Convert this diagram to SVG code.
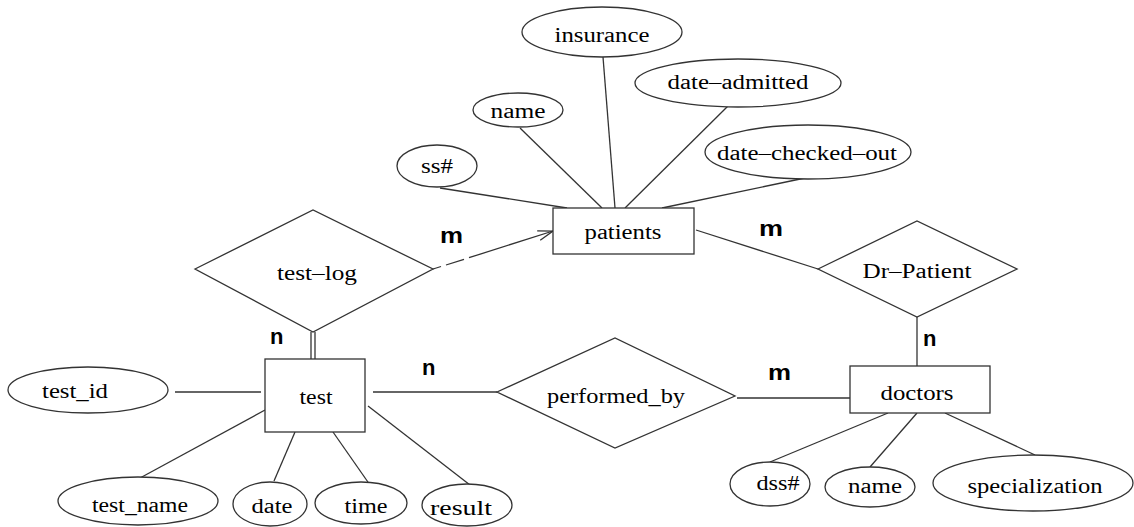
<svg xmlns="http://www.w3.org/2000/svg" width="1134" height="527" viewBox="0 0 1134 527">
<defs>
<style>
.s{fill:#fff;stroke:#333;stroke-width:1.3}
.l{fill:none;stroke:#333;stroke-width:1.3}
.t{font-family:"Liberation Serif","Times New Roman",serif;font-size:20px;fill:#000;text-anchor:middle}
.c{font-family:"Liberation Sans",Arial,sans-serif;font-weight:bold;font-size:22px;fill:#000}
</style>
<marker id="arr" markerWidth="16" markerHeight="12" refX="15" refY="6" orient="auto" markerUnits="userSpaceOnUse">
<polyline points="0,1 15,6 0,11" fill="none" stroke="#333" stroke-width="1.3"/>
</marker>
</defs>
<rect width="1134" height="527" fill="#fff"/>
<g id="connectors">
<line class="l" x1="440" y1="188" x2="567" y2="208"/>
<line class="l" x1="520" y1="128" x2="602" y2="208"/>
<line class="l" x1="603" y1="57" x2="615" y2="208"/>
<line class="l" x1="728" y1="106" x2="625" y2="208"/>
<line class="l" x1="805" y1="178" x2="662" y2="208"/>
<line class="l" x1="433" y1="269" x2="441" y2="266.5"/>
<line class="l" x1="446" y1="265" x2="464" y2="259.3"/>
<line class="l" x1="469" y1="257.7" x2="553" y2="231" marker-end="url(#arr)"/>
<line class="l" x1="696" y1="230" x2="818" y2="269"/>
<line class="l" x1="917" y1="317" x2="917" y2="366"/>
<line class="l" x1="311" y1="332" x2="311" y2="359"/>
<line class="l" x1="315" y1="332" x2="315" y2="359"/>
<line class="l" x1="373" y1="392" x2="497" y2="392"/>
<line class="l" x1="737" y1="398" x2="852" y2="398"/>
<line class="l" x1="175" y1="392" x2="261" y2="392"/>
<line class="l" x1="140" y1="478" x2="265" y2="410"/>
<line class="l" x1="274" y1="481" x2="295" y2="432"/>
<line class="l" x1="370" y1="485" x2="333" y2="432"/>
<line class="l" x1="470" y1="485" x2="368" y2="406"/>
<line class="l" x1="770" y1="462" x2="888" y2="413"/>
<line class="l" x1="870" y1="467" x2="917" y2="413"/>
<line class="l" x1="1035" y1="455" x2="945" y2="413"/>
<text class="c" x="440" y="243" textLength="23" lengthAdjust="spacingAndGlyphs">m</text>
<text class="c" x="759" y="236" textLength="24" lengthAdjust="spacingAndGlyphs">m</text>
<text class="c" x="270" y="344">n</text>
<text class="c" x="422" y="375">n</text>
<text class="c" x="923" y="346">n</text>
<text class="c" x="768" y="380" textLength="23" lengthAdjust="spacingAndGlyphs">m</text>
</g>
<g id="patients">
<rect class="s" x="553" y="208" width="141" height="46"/>
<text class="t" x="623" y="239" textLength="77" lengthAdjust="spacingAndGlyphs">patients</text>
</g>
<g id="ssn">
<ellipse class="s" cx="437" cy="166" rx="40" ry="21"/>
<text class="t" x="437" y="173" textLength="32" lengthAdjust="spacingAndGlyphs">ss#</text>
</g>
<g id="name-p">
<ellipse class="s" cx="518" cy="110" rx="45" ry="17"/>
<text class="t" x="518" y="118" textLength="55" lengthAdjust="spacingAndGlyphs">name</text>
</g>
<g id="insurance">
<ellipse class="s" cx="602" cy="32" rx="80" ry="25"/>
<text class="t" x="602" y="42" textLength="95" lengthAdjust="spacingAndGlyphs">insurance</text>
</g>
<g id="date-admitted">
<ellipse class="s" cx="738" cy="83" rx="103" ry="24"/>
<text class="t" x="738" y="89" textLength="141" lengthAdjust="spacingAndGlyphs">date–admitted</text>
</g>
<g id="date-checked-out">
<ellipse class="s" cx="808" cy="152" rx="103" ry="27"/>
<text class="t" x="807" y="160" textLength="180" lengthAdjust="spacingAndGlyphs">date–checked–out</text>
</g>
<g id="test-log">
<polygon class="s" points="195,269 313,210 433,269 313,332"/>
<text class="t" x="317" y="280" textLength="80" lengthAdjust="spacingAndGlyphs">test–log</text>
</g>
<g id="dr-patient">
<polygon class="s" points="818,269 917,221 1017,269 917,317"/>
<text class="t" x="917" y="278" textLength="109" lengthAdjust="spacingAndGlyphs">Dr–Patient</text>
</g>
<g id="test">
<rect class="s" x="265" y="359" width="100" height="73"/>
<text class="t" x="316" y="404" textLength="33" lengthAdjust="spacingAndGlyphs">test</text>
</g>
<g id="performed_by">
<polygon class="s" points="497,392 615,338 735,396 615,448"/>
<text class="t" x="616" y="403" textLength="138" lengthAdjust="spacingAndGlyphs">performed_by</text>
</g>
<g id="doctors">
<rect class="s" x="850" y="366" width="140" height="47"/>
<text class="t" x="917" y="400" textLength="73" lengthAdjust="spacingAndGlyphs">doctors</text>
</g>
<g id="test_id">
<ellipse class="s" cx="88" cy="390" rx="80" ry="23"/>
<text class="t" x="75" y="398" textLength="66" lengthAdjust="spacingAndGlyphs">test_id</text>
</g>
<g id="test_name">
<ellipse class="s" cx="138" cy="501" rx="80" ry="24"/>
<text class="t" x="140" y="512" textLength="96" lengthAdjust="spacingAndGlyphs">test_name</text>
</g>
<g id="date">
<ellipse class="s" cx="270" cy="504" rx="37" ry="22"/>
<text class="t" x="272" y="513" textLength="41" lengthAdjust="spacingAndGlyphs">date</text>
</g>
<g id="time">
<ellipse class="s" cx="361" cy="503" rx="46" ry="21"/>
<text class="t" x="366" y="513" textLength="43" lengthAdjust="spacingAndGlyphs">time</text>
</g>
<g id="result">
<ellipse class="s" cx="467" cy="505" rx="45" ry="21"/>
<text class="t" x="461" y="515" textLength="62" lengthAdjust="spacingAndGlyphs">result</text>
</g>
<g id="dss">
<ellipse class="s" cx="770" cy="484" rx="40" ry="22"/>
<text class="t" x="778" y="490" textLength="43" lengthAdjust="spacingAndGlyphs">dss#</text>
</g>
<g id="name-d">
<ellipse class="s" cx="870" cy="487" rx="45" ry="20"/>
<text class="t" x="875" y="493" textLength="54" lengthAdjust="spacingAndGlyphs">name</text>
</g>
<g id="specialization">
<ellipse class="s" cx="1033" cy="483" rx="100" ry="28"/>
<text class="t" x="1035" y="493" textLength="135" lengthAdjust="spacingAndGlyphs">specialization</text>
</g>
</svg>
